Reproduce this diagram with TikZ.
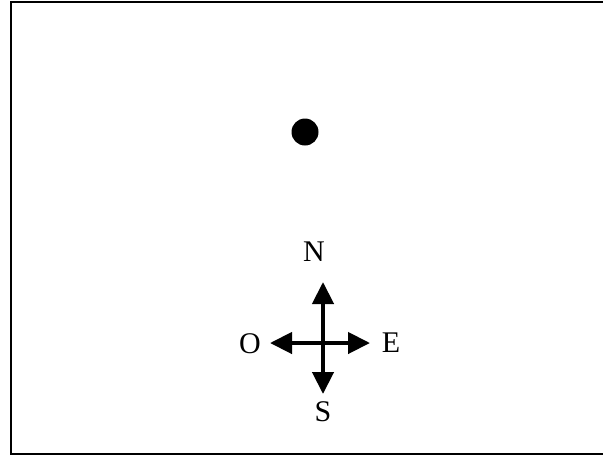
\documentclass[tikz,border=0pt]{standalone}
\usepackage{fontspec}
\setmainfont{Liberation Serif}
\usetikzlibrary{arrows.meta}

\tikzset{
    dir/.style={font=\fontsize{30}{32}\selectfont, inner sep=0pt},
    arm/.style={line width=4.3pt, -{Triangle[length=22pt,width=21pt]}},
}

\begin{document}
\begin{tikzpicture}[x=1pt, y=-1pt]
            \useasboundingbox (0,0) rectangle (603,456);
            \draw[line width=2pt] (11,2) rectangle (640,454);

            \fill (305,132) circle (13.5);

            \coordinate (c)  at (323,343);
            \coordinate (tn) at (323,282);
            \coordinate (ts) at (323,394);
            \coordinate (to) at (270,343);
            \coordinate (te) at (370,343);

            \node[dir] (n) at (314,252) {N};
            \node[dir] (s) at (323,412) {S};
            \node[dir] (o) at (250,344) {O};
            \node[dir] (e) at (391,343) {E};

            \draw[arm] (c) -- (tn);
            \draw[arm] (c) -- (ts);
            \draw[arm] (c) -- (to);
            \draw[arm] (c) -- (te);
        \end{tikzpicture}
\end{document}
